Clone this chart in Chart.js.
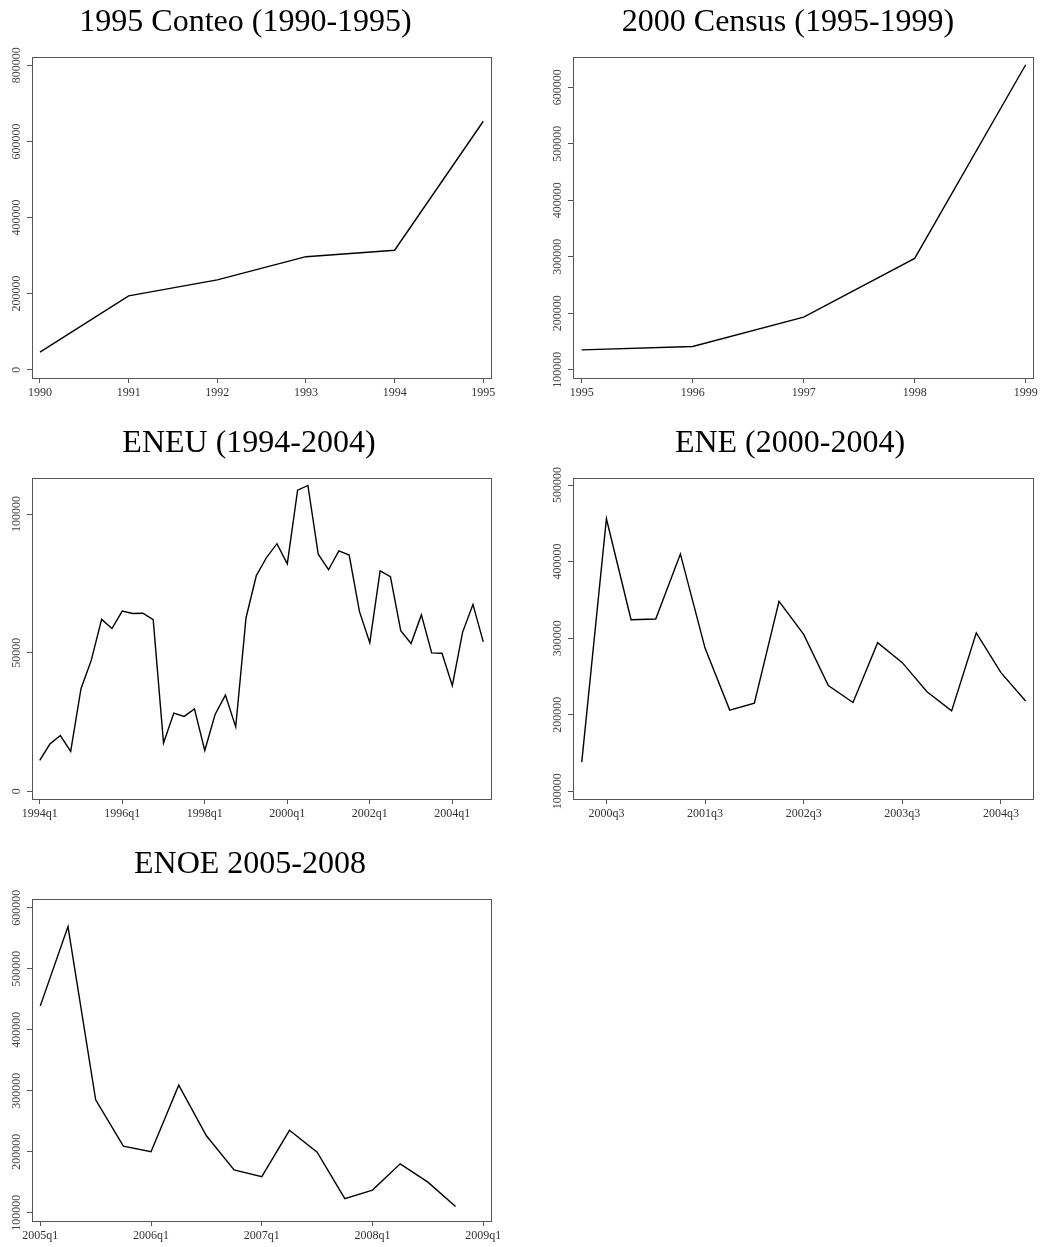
<!DOCTYPE html>
<html>
<head>
<meta charset="utf-8">
<script src="https://cdn.jsdelivr.net/npm/chart.js@4.4.1/dist/chart.umd.min.js"></script>
<style>
  body { margin: 0; background: #fff; }
  #wrap { position: relative; width: 1040px; height: 1247px; overflow: hidden; }
  canvas { position: absolute; }
</style>
</head>
<body>
<div id="wrap">
  <canvas id="conteo" width="520" height="421" style="left:0;top:0"></canvas>
  <canvas id="census" width="520" height="421" style="left:520px;top:0"></canvas>
  <canvas id="eneu" width="520" height="421" style="left:0;top:421px"></canvas>
  <canvas id="ene" width="520" height="421" style="left:520px;top:421px"></canvas>
  <canvas id="enoe" width="520" height="405" style="left:0;top:842px"></canvas>
</div>
<script>
// 1995 Conteo (yearly)
const conteoYears = [1990, 1991, 1992, 1993, 1994, 1995];
const conteoValues = [46000, 194000, 236000, 297000, 314000, 653000];
const conteoYTicks = [0, 200000, 400000, 600000, 800000];

// 2000 Census (yearly)
const censusYears = [1995, 1996, 1997, 1998, 1999];
const censusValues = [135000, 141000, 193000, 297000, 640000];
const censusYTicks = [100000, 200000, 300000, 400000, 500000, 600000];

// ENEU, quarterly 1994q1 - 2004q4
const eneuValues = [11100, 17100, 20100, 14400, 37000, 47300, 62000, 58700, 65000, 64100,
                    64200, 61900, 17400, 28200, 27000, 29700, 14700, 27700, 34700, 23200,
                    62600, 77800, 84400, 89300, 82000, 108600, 110300, 85500, 79900, 86700,
                    85200, 64800, 53600, 79500, 77400, 57900, 53300, 63600, 49900, 49800,
                    38100, 57400, 67400, 53900];
const eneuTickAt = [0, 8, 16, 24, 32, 40];
const eneuTickLabels = ["1994q1", "1996q1", "1998q1", "2000q1", "2002q1", "2004q1"];
const eneuYTicks = [0, 50000, 100000];

// ENE, quarterly 2000q2 - 2004q4
const eneValues = [138000, 456000, 324000, 325000, 410000, 287000, 206000, 215000, 348000, 305000,
                   238000, 216000, 294000, 268000, 230000, 205000, 307000, 255000, 218000];
const eneTickAt = [1, 5, 9, 13, 17];
const eneTickLabels = ["2000q3", "2001q3", "2002q3", "2003q3", "2004q3"];
const eneYTicks = [100000, 200000, 300000, 400000, 500000];

// ENOE, quarterly 2005q1 - 2008q4
const enoeValues = [439000, 569000, 285000, 209000, 200000, 309000, 226000, 170000,
                    159000, 235000, 199000, 123000, 137000, 180000, 150000, 110000];
const enoeTickAt = [0, 4, 8, 12, 16];
const enoeTickLabels = ["2005q1", "2006q1", "2007q1", "2008q1", "2009q1"];
const enoeYTicks = [100000, 200000, 300000, 400000, 500000, 600000];

const serif = "'Liberation Serif', 'Times New Roman', serif";

// box round the plot region
const frame = {
    id: "frame",
    afterDraw(chart) {
        const a = chart.chartArea;
        const ctx = chart.ctx;
        ctx.save();
        ctx.strokeStyle = "#555";
        ctx.lineWidth = 1;
        ctx.strokeRect(Math.round(a.left) + 0.5, Math.round(a.top) + 0.5,
                       Math.round(a.right - a.left), Math.round(a.bottom - a.top));
        ctx.restore();
    }
};

function makePanel(id, o) {
    return new Chart(document.getElementById(id), {
        type: "line",
        data: {
            datasets: [{
                data: o.points,
                borderColor: "#000",
                borderWidth: 1.4,
                pointRadius: 0,
                tension: 0,
                fill: false
            }]
        },
        options: {
            responsive: false,
            animation: false,
            layout: { padding: { left: o.padLeft, right: o.padRight, top: 0, bottom: 0 } },
            plugins: {
                legend: { display: false },
                tooltip: { enabled: false },
                title: {
                    display: true,
                    text: o.title,
                    color: "#000",
                    font: { family: serif, size: 32, weight: "normal", lineHeight: 1 },
                    padding: { top: 7, bottom: 18 }
                }
            },
            scales: {
                x: {
                    type: "linear",
                    min: o.xMin,
                    max: o.xMax,
                    afterBuildTicks: s => { s.ticks = o.xTicks.map(v => ({ value: v })); },
                    afterFit: s => { s.height = o.xHeight; s.paddingLeft = 0; s.paddingRight = 0; },
                    ticks: {
                        autoSkip: false,
                        minRotation: 0,
                        maxRotation: 0,
                        padding: 3,
                        color: "#333",
                        font: { family: serif, size: 12 },
                        callback: (v, i) => o.xLabels[i]
                    },
                    grid: { drawOnChartArea: false, tickLength: 5, color: "#555", lineWidth: 1 },
                    border: { color: "#555", width: 1 }
                },
                y: {
                    type: "linear",
                    min: o.yMin,
                    max: o.yMax,
                    afterBuildTicks: s => { s.ticks = o.yTicks.map(v => ({ value: v })); },
                    afterFit: s => { s.width = o.yWidth; s.paddingTop = 0; s.paddingBottom = 0; },
                    ticks: {
                        minRotation: 90,
                        maxRotation: 90,
                        crossAlign: "center",
                        padding: -8,
                        color: "#444",
                        font: { family: serif, size: 12 },
                        callback: v => String(v)
                    },
                    grid: { drawOnChartArea: false, tickLength: 5, color: "#555", lineWidth: 1 },
                    border: { color: "#555", width: 1 }
                }
            }
        },
        plugins: [frame]
    });
}

makePanel("conteo", {
    title: "1995 Conteo (1990-1995)",
    points: conteoYears.map((x, i) => ({ x: x, y: conteoValues[i] })),
    xMin: 1989.91, xMax: 1995.087,
    xTicks: conteoYears, xLabels: conteoYears.map(String),
    yMin: -21900, yMax: 821900, yTicks: conteoYTicks,
    padLeft: 0, padRight: 29, yWidth: 32, xHeight: 43
});

makePanel("census", {
    title: "2000 Census (1995-1999)",
    points: censusYears.map((x, i) => ({ x: x, y: censusValues[i] })),
    xMin: 1994.922, xMax: 1999.066,
    xTicks: censusYears, xLabels: censusYears.map(String),
    yMin: 85200, yMax: 653700, yTicks: censusYTicks,
    padLeft: 23, padRight: 7, yWidth: 30, xHeight: 43
});

makePanel("eneu", {
    title: "ENEU (1994-2004)",
    points: eneuValues.map((v, i) => ({ x: i, y: v })),
    xMin: -0.75, xMax: 43.75,
    xTicks: eneuTickAt, xLabels: eneuTickLabels,
    yMin: -2800, yMax: 113000, yTicks: eneuYTicks,
    padLeft: 7, padRight: 29, yWidth: 25, xHeight: 43
});

makePanel("ene", {
    title: "ENE (2000-2004)",
    points: eneValues.map((v, i) => ({ x: i, y: v })),
    xMin: -0.355, xMax: 18.3,
    xTicks: eneTickAt, xLabels: eneTickLabels,
    yMin: 89900, yMax: 509200, yTicks: eneYTicks,
    padLeft: 27, padRight: 7, yWidth: 26, xHeight: 43
});

makePanel("enoe", {
    title: "ENOE 2005-2008",
    points: enoeValues.map((v, i) => ({ x: i, y: v })),
    xMin: -0.3, xMax: 16.28,
    xTicks: enoeTickAt, xLabels: enoeTickLabels,
    yMin: 86300, yMax: 614200, yTicks: enoeYTicks,
    padLeft: 9, padRight: 29, yWidth: 23, xHeight: 26
});
</script>
</body>
</html>
